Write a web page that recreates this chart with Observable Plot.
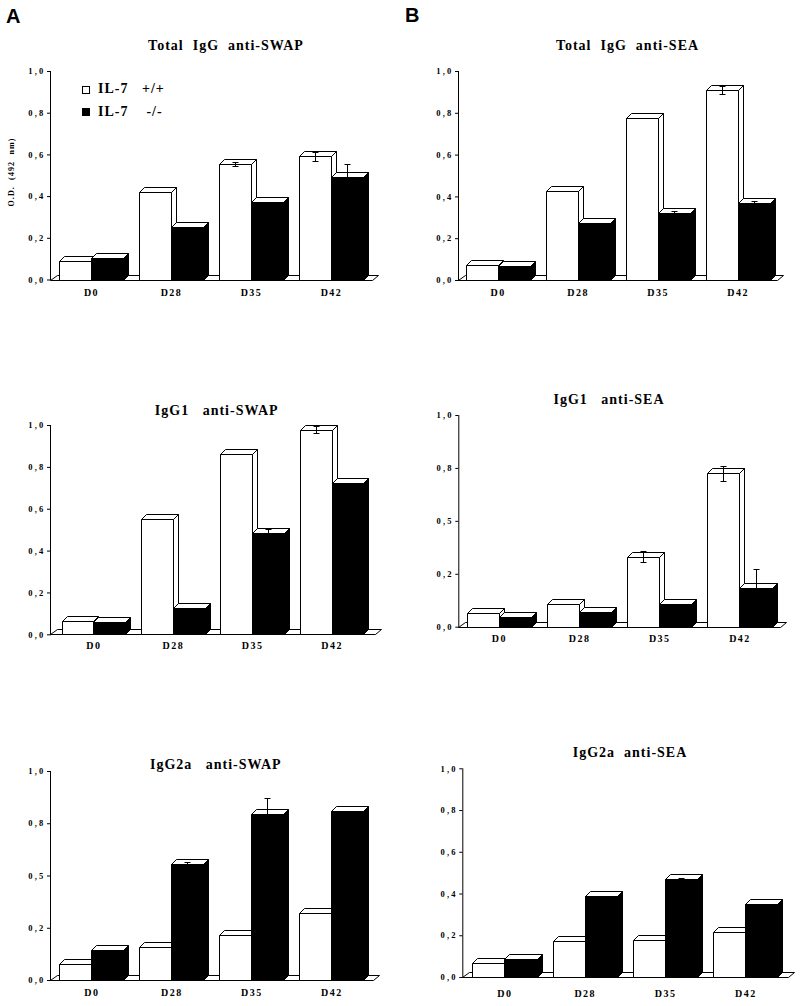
<!DOCTYPE html>
<html><head><meta charset="utf-8">
<script src="https://cdn.jsdelivr.net/npm/d3@7"></script>
<script src="https://cdn.jsdelivr.net/npm/@observablehq/plot@0.6"></script>
<style>
body{margin:0;background:#fff;}
#fig{position:relative;width:800px;height:1006px;background:#fff;overflow:hidden;font-family:"Liberation Serif","Times New Roman",serif;color:#000;}
.t{position:absolute;white-space:pre;font-weight:bold;font-size:14px;letter-spacing:1px;line-height:14px;transform:translateX(-50%);}
.pl{position:absolute;font-family:"Liberation Sans",Arial,sans-serif;font-weight:bold;font-size:20px;line-height:20px;}
.lg{position:absolute;white-space:pre;font-weight:bold;font-size:14px;letter-spacing:1px;line-height:14px;}
.sq{position:absolute;width:6px;height:6px;border:1px solid #000;}
.yl{position:absolute;white-space:pre;font-weight:bold;font-size:8px;letter-spacing:1.1px;line-height:8px;transform:translate(-50%,-50%) rotate(-90deg);}
</style></head>
<body><div id="fig"></div>
<script>
// ---------- data ----------
const days = ["D0", "D28", "D35", "D42"];
const series = ["IL-7 +/+", "IL-7 -/-"];

const ticksA = [0, 0.2, 0.4, 0.6, 0.8, 1.0];
const tickLabelsA = ["0,0", "0,2", "0,4", "0,6", "0,8", "1,0"];
const ticksB = [0, 0.25, 0.5, 0.75, 1.0];
const tickLabelsB = ["0,0", "0,2", "0,5", "0,8", "1,0"];

// Total IgG anti-SWAP
const totSwapWT = [0.09, 0.42, 0.555, 0.59];
const totSwapKO = [0.105, 0.25, 0.37, 0.49];
const totSwapErrWT = [0, 0, 0.01, 0.02];
const totSwapErrKO = [0, 0, 0, 0.065];
// Total IgG anti-SEA
const totSeaWT = [0.07, 0.425, 0.775, 0.91];
const totSeaKO = [0.068, 0.275, 0.322, 0.37];
const totSeaErrWT = [0, 0, 0, 0.02];
const totSeaErrKO = [0, 0, 0.008, 0.006];
// IgG1 anti-SWAP
const g1SwapWT = [0.065, 0.55, 0.86, 0.978];
const g1SwapKO = [0.06, 0.128, 0.485, 0.725];
const g1SwapErrWT = [0, 0, 0, 0.017];
const g1SwapErrKO = [0, 0, 0.02, 0];
// IgG1 anti-SEA
const g1SeaWT = [0.066, 0.107, 0.331, 0.724];
const g1SeaKO = [0.047, 0.071, 0.107, 0.184];
const g1SeaErrWT = [0, 0, 0.025, 0.035];
const g1SeaErrKO = [0, 0, 0, 0.09];
// IgG2a anti-SWAP
const g2SwapWT = [0.077, 0.156, 0.214, 0.319];
const g2SwapKO = [0.144, 0.555, 0.793, 0.81];
const g2SwapErrWT = [0, 0, 0, 0];
const g2SwapErrKO = [0, 0.01, 0.08, 0];
// IgG2a anti-SEA
const g2SeaWT = [0.069, 0.173, 0.176, 0.214];
const g2SeaKO = [0.088, 0.388, 0.471, 0.348];
const g2SeaErrWT = [0, 0, 0, 0];
const g2SeaErrKO = [0, 0, 0.005, 0];

const titles = ["Total  IgG  anti-SWAP", "Total  IgG  anti-SEA", "IgG1   anti-SWAP", "IgG1   anti-SEA", "IgG2a   anti-SWAP", "IgG2a  anti-SEA"];
const yLabel = "O.D.  (492  nm)";

// ---------- layout ----------
const DX = 5, DY = 5;
const panels = [
  {wt: totSwapWT, ko: totSwapKO, ew: totSwapErrWT, ek: totSwapErrKO, ticks: ticksA, labels: tickLabelsA, title: titles[0],
   left: 0, axisX: 50, xEnd: 372, y1: 71, y0: 279.5, po: 0.1125, lab: 12.5, tx: 226, ty: 46.2},
  {wt: totSeaWT, ko: totSeaKO, ew: totSeaErrWT, ek: totSeaErrKO, ticks: ticksA, labels: tickLabelsA, title: titles[1],
   left: 400, axisX: 458, xEnd: 777.4, y1: 71, y0: 280, po: 0.096, lab: 12, tx: 627.5, ty: 45.7},
  {wt: g1SwapWT, ko: g1SwapKO, ew: g1SwapErrWT, ek: g1SwapErrKO, ticks: ticksA, labels: tickLabelsA, title: titles[2],
   left: 0, axisX: 50, xEnd: 375, y1: 425, y0: 634.3, po: 0.147, lab: 10.7, tx: 216.7, ty: 411},
  {wt: g1SeaWT, ko: g1SeaKO, ew: g1SeaErrWT, ek: g1SeaErrKO, ticks: ticksB, labels: tickLabelsB, title: titles[3],
   left: 400, axisX: 458.3, xEnd: 780, y1: 415, y0: 626.7, po: 0.105, lab: 11.3, tx: 609, ty: 399.7},
  {wt: g2SwapWT, ko: g2SwapKO, ew: g2SwapErrWT, ek: g2SwapErrKO, ticks: ticksB, labels: tickLabelsB, title: titles[4],
   left: 0, axisX: 50, xEnd: 372.6, y1: 771, y0: 980, po: 0.116, lab: 12, tx: 215.8, ty: 765},
  {wt: g2SeaWT, ko: g2SeaKO, ew: g2SeaErrWT, ek: g2SeaErrKO, ticks: ticksA, labels: tickLabelsA, title: titles[5],
   left: 400, axisX: 462.3, xEnd: 787.5, y1: 768.3, y0: 977, po: 0.125, lab: 16.3, tx: 630, ty: 753.3}
];

const cr = v => Math.round(v) + 0.5;

function drawBox(g, xl, w, yt, yb, front) {
  const X0 = cr(xl), X1 = cr(xl + w), YT = cr(yt), YB = cr(yb);
  g.append("path").attr("fill", front)
    .attr("d", `M${X1},${YT}L${X1 + DX},${YT - DY}L${X1 + DX},${YB - DY}L${X1},${YB}Z`);
  g.append("path").attr("fill", "white")
    .attr("d", `M${X0},${YT}L${X1},${YT}L${X1 + DX},${YT - DY}L${X0 + DX},${YT - DY}Z`);
  g.append("path").attr("fill", front)
    .attr("d", `M${X0},${YT}L${X1},${YT}L${X1},${YB}L${X0},${YB}Z`);
}

function box3d(cfg) {
  return function (index, scales, values, dimensions) {
    const x = scales.x, y = scales.y;
    const bw = typeof x.bandwidth === "function" ? x.bandwidth() : scales.scales.x.bandwidth;
    const w = bw / 2;
    const y0 = y(0);
    const {marginLeft, marginRight, width} = dimensions;
    const g = d3.create("svg:g").attr("stroke", "black").attr("stroke-width", 1);
    const F0 = cr(marginLeft), F1 = cr(width - marginRight), FY = cr(y0);
    g.append("path").attr("fill", "white")
      .attr("d", `M${F0},${FY}L${F1},${FY}L${F1 + DX + 1},${FY - DY}L${F0 + DX + 2},${FY - DY}Z`);
    days.forEach((d, i) => {
      const xl = x(d);
      drawBox(g, xl, w, y(cfg.wt[i]), y0, "white");
      drawBox(g, xl + w, w, y(cfg.ko[i]), y0, "black");
    });
    days.forEach((d, i) => {
      const xl = x(d);
      [[cfg.wt[i], cfg.ew[i], xl + w / 2], [cfg.ko[i], cfg.ek[i], xl + w * 1.5]].forEach(([v, e, cx]) => {
        if (!e) return;
        const X = cr(cx), Yh = cr(y(v + e)), Yl = cr(y(v - e));
        g.append("path").attr("fill", "none")
          .attr("d", `M${X},${Yh}L${X},${Yl}M${X - 3},${Yh}L${X + 3},${Yh}M${X - 3},${Yl}L${X + 3},${Yl}`);
      });
    });
    return g.node();
  };
}

const fig = document.getElementById("fig");

panels.forEach((cfg) => {
  const width = 400;
  const top = Math.round(cfg.y1 - 22);
  const marginTop = cfg.y1 - top;
  const height = Math.round(cfg.y0 - top + 30);
  const marginBottom = top + height - cfg.y0;
  const marginLeft = cfg.axisX - cfg.left;
  const marginRight = cfg.left + width - cfg.xEnd;
  const rows = days.flatMap((d, i) => [
    {day: d, series: series[0], value: cfg.wt[i]},
    {day: d, series: series[1], value: cfg.ko[i]}
  ]);
  const svg = Plot.plot({
    width, height, marginTop, marginBottom, marginLeft, marginRight,
    style: "background:none;font-family:'Liberation Serif','Times New Roman',serif;font-weight:bold;font-size:9px;color:black;overflow:visible;",
    x: {domain: days, paddingInner: 0.2, paddingOuter: cfg.po, round: false, tickSize: 0, tickPadding: cfg.lab - 3.8, label: null},
    y: {domain: [0, 1], ticks: cfg.ticks, tickFormat: d => cfg.labels[cfg.ticks.indexOf(d)], tickSize: 3, tickPadding: 2, line: true, label: null},
    marks: [
      Plot.barY(rows, {x: "day", y1: 0, y2: "value", fill: "none"}),
      box3d(cfg)
    ]
  });
  svg.style.position = "absolute";
  svg.style.left = cfg.left + "px";
  svg.style.top = top + "px";
  svg.querySelectorAll('g[aria-label^="x-axis"] text').forEach(t => { t.style.fontSize = "10px"; t.style.letterSpacing = "1.5px"; });
  svg.querySelectorAll('g[aria-label^="y-axis"] text').forEach(t => { t.style.fontSize = "8.5px"; t.style.letterSpacing = "2.2px"; });
  fig.appendChild(svg);

  const t = document.createElement("div");
  t.className = "t";
  t.textContent = cfg.title;
  t.style.left = cfg.tx + "px";
  t.style.top = (cfg.ty - 7.1) + "px";
  fig.appendChild(t);
});

// panel letters
[["A", 6, 5.8], ["B", 405, 4.8]].forEach(([s, l, tp]) => {
  const d = document.createElement("div");
  d.className = "pl"; d.textContent = s; d.style.left = l + "px"; d.style.top = tp + "px";
  fig.appendChild(d);
});

// legend
[[series[0], "white", 89.5, "IL-7   +/+"], [series[1], "black", 112, "IL-7    -/-"]].forEach(([name, col, cy, txt]) => {
  const s = document.createElement("div");
  s.className = "sq"; s.style.background = col; s.style.left = "82px"; s.style.top = (cy - 4) + "px";
  fig.appendChild(s);
  const l = document.createElement("div");
  l.className = "lg"; l.textContent = txt; l.style.left = "98px"; l.style.top = (cy - 7.1) + "px";
  l.title = name;
  fig.appendChild(l);
});

// y label
const yl = document.createElement("div");
yl.className = "yl"; yl.textContent = yLabel; yl.style.left = "11.7px"; yl.style.top = "172px";
fig.appendChild(yl);
</script></body></html>
